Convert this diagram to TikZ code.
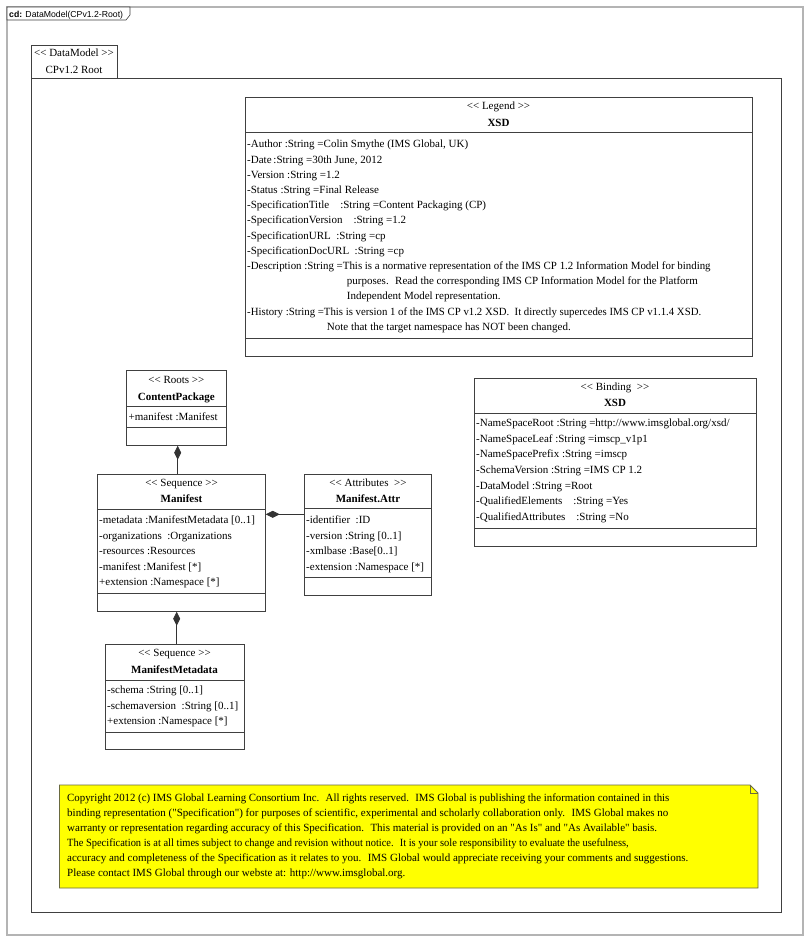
\documentclass[tikz,border=0pt]{standalone}
\usepackage{fontspec}
\setmainfont{Liberation Serif}[Ligatures=TeXOff]
\newfontfamily\lsans{Liberation Sans}
\usetikzlibrary{arrows.meta}
\definecolor{boxc}{HTML}{404040}
\definecolor{framec}{HTML}{B4B4B4}
\definecolor{notec}{HTML}{FFFF00}
\definecolor{notebd}{HTML}{6A6A40}
\newcommand\dfont{\fontsize{11}{13}\selectfont}
\tikzset{
  boxline/.style={draw=boxc, line width=0.7pt},
  cls/.style={boxline, fill=white, inner sep=0pt, outer sep=0pt, anchor=north west},
  t/.style={anchor=base west, inner sep=0pt, font=\dfont},
  h/.style={anchor=base, inner sep=0pt, font=\dfont},
  hb/.style={anchor=base, inner sep=0pt, font=\dfont\bfseries},
  conn/.style={draw=boxc!80!black, line width=0.8pt},
  dia/.style={{Diamond[length=14pt,width=7pt]}-},
}
\begin{document}
\begin{tikzpicture}[x=1pt,y=-1pt]
\useasboundingbox (0,0) rectangle (807,940);
\fill[white] (0,0) rectangle (807,940);
% outer frame
\draw[framec, line width=1.4pt] (7,7) rectangle (803,935);
\draw[boxc, line width=0.6pt, fill=white] (7,7) -- (130,7) -- (130,15) -- (126,20) -- (7,20) -- cycle;
\node[anchor=base west, inner sep=0pt, font=\lsans\fontsize{8.7}{10}\selectfont] (lbl) at (9,17.5) {\textbf{cd:} DataModel(CPv1.2-Root)};
% package
\draw[boxline] (31,45) rectangle (117,78);
\draw[boxline] (31,78) rectangle (781,912);
\node[h] (pst) at (74,56.5) {<{}< DataModel >{}>};
\node[h] (pnm) at (74,73.5) {CPv1.2 Root};

% Legend
\node[cls, minimum width=507pt, minimum height=259pt] (leg) at (245,97) {};
\draw[boxline] (245,132) -- (752,132);
\draw[boxline] (245,338) -- (752,338);
\node[h] (legst) at (498.5,109.2) {<{}< Legend >{}>};
\node[hb] (legnm) at (498.5,126.8) {XSD};
\node[t] (l1) at (247,147.8) {-Author :String =Colin Smythe (IMS Global, UK)};
\node[t] (l2) at (247,163.0) {-Date\,:String =30th June, 2012};
\node[t] (l3) at (247,178.2) {-Version :String =1.2};
\node[t] (l4) at (247,193.4) {-Status :String =Final Release};
\node[t] (l5) at (247,208.6) {-SpecificationTitle\quad:String =Content Packaging (CP)};
\node[t] (l6) at (247,223.8) {-SpecificationVersion\quad:String =1.2};
\node[t] (l7) at (247,239.0) {-SpecificationURL\ \ :String =cp};
\node[t] (l8) at (247,254.2) {-SpecificationDocURL\ \ :String =cp};
\node[t] (l9) at (247,269.4) {\scalebox{0.99}[1]{-Description :String =This is a normative representation of the IMS CP 1.2 Information Model for binding}};
\node[t] (l10) at (346.7,284.6) {purposes.~ Read the corresponding IMS CP Information Model for the Platform};
\node[t] (l11) at (346.7,299.8) {Independent Model representation.};
\node[t] (l12) at (247,315.0) {\scalebox{0.98}[1]{-History :String =This is version 1 of the IMS CP v1.2 XSD.~ It directly supercedes IMS CP v1.1.4 XSD.}};
\node[t] (l13) at (326.7,330.2) {Note that the target namespace has NOT been changed.};

% Binding
\node[cls, minimum width=282pt, minimum height=168pt] (bnd) at (474,378) {};
\draw[boxline] (474,413) -- (756,413);
\draw[boxline] (474,528) -- (756,528);
\node[h] (bst) at (615,390.5) {<{}< Binding\ \ >{}>};
\node[hb] (bnm) at (615,406.5) {XSD};
\node[t] (b1) at (476,426.5) {-NameSpaceRoot :String =http://www.imsglobal.org/xsd/};
\node[t] (b2) at (476,442.2) {-NameSpaceLeaf :String =imscp\_v1p1};
\node[t] (b3) at (476,457.8) {-NameSpacePrefix :String =imscp};
\node[t] (b4) at (476,473.5) {-SchemaVersion :String =IMS CP 1.2};
\node[t] (b5) at (476,489.2) {-DataModel :String =Root};
\node[t] (b6) at (476,504.8) {-QualifiedElements\quad:String =Yes};
\node[t] (b7) at (476,520.5) {-QualifiedAttributes\quad:String =No};

% ContentPackage
\node[cls, minimum width=99.3pt, minimum height=75pt] (cp) at (126.7,370.7) {};
\draw[boxline] (126.7,406.7) -- (226,406.7);
\draw[boxline] (126.7,427.3) -- (226,427.3);
\node[h] (cpst) at (176.35,383.5) {<{}< Roots >{}>};
\node[hb] (cpnm) at (176.35,400.2) {ContentPackage};
\node[t] (cp1) at (128.5,420.2) {+manifest :Manifest};

% Manifest
\node[cls, minimum width=168.4pt, minimum height=137.4pt] (man) at (97.3,474.3) {};
\draw[boxline] (97.3,509.3) -- (265.7,509.3);
\draw[boxline] (97.3,593.3) -- (265.7,593.3);
\node[h] (manst) at (181.5,486.5) {<{}< Sequence >{}>};
\node[hb] (mannm) at (181.5,502.5) {Manifest};
\node[t] (m1) at (99,523.5) {-metadata :ManifestMetadata [0..1]};
\node[t] (m2) at (99,539.1) {-organizations\ \ :Organizations};
\node[t] (m3) at (99,554.7) {-resources :Resources};
\node[t] (m4) at (99,570.3) {-manifest :Manifest [*]};
\node[t] (m5) at (99,585.9) {+extension :Namespace [*]};

% Manifest.Attr
\node[cls, minimum width=127.4pt, minimum height=121.4pt] (attr) at (304.3,474.3) {};
\draw[boxline] (304.3,508.3) -- (431.7,508.3);
\draw[boxline] (304.3,577.7) -- (431.7,577.7);
\node[h] (attrst) at (368,486.5) {<{}< Attributes\ \ >{}>};
\node[hb] (attrnm) at (368,502.5) {Manifest.Attr};
\node[t] (a1) at (306,523.5) {-identifier\ \ :ID};
\node[t] (a2) at (306,539.1) {-version :String [0..1]};
\node[t] (a3) at (306,554.7) {-xmlbase :Base[0..1]};
\node[t] (a4) at (306,570.3) {-extension :Namespace [*]};

% ManifestMetadata
\node[cls, minimum width=139pt, minimum height=105pt] (meta) at (105,644.3) {};
\draw[boxline] (105,680) -- (244,680);
\draw[boxline] (105,732.3) -- (244,732.3);
\node[h] (metast) at (174.5,656.8) {<{}< Sequence >{}>};
\node[hb] (metanm) at (174.5,673.5) {ManifestMetadata};
\node[t] (mm1) at (107,693.5) {-schema :String [0..1]};
\node[t] (mm2) at (107,709.1) {-schemaversion\ \ :String [0..1]};
\node[t] (mm3) at (107,724.7) {+extension :Namespace [*]};

% connectors
\coordinate (cpb) at (177.7,445.7);
\draw[conn, dia] (cpb) -- (cpb |- man.north);
\coordinate (ma) at (304.3,514.3);
\draw[conn, dia] (ma -| man.east) -- (ma);
\coordinate (mmt) at (176.7,644.3);
\draw[conn, dia] (mmt |- man.south) -- (mmt);

% Note
\draw[notebd, line width=0.8pt, fill=notec] (59.5,785) -- (750,785) -- (758,793) -- (758,888) -- (59.5,888) -- cycle;
\draw[notebd, line width=0.6pt] (750,785) -- (750,793) -- (758,793);
\node[t] (n1) at (67,801) {\scalebox{0.985}[1]{Copyright 2012 (c) IMS Global Learning Consortium Inc.~ All rights reserved.~ IMS Global is publishing the information contained in this}};
\node[t] (n2) at (67,816) {binding representation ("Specification") for purposes of scientific, experimental and scholarly collaboration only.~ IMS Global makes no};
\node[t] (n3) at (67,831) {warranty or representation regarding accuracy of this Specification.~ This material is provided on an "As Is" and "As Available" basis.};
\node[t] (n4) at (67,846) {\scalebox{0.95}[1]{The Specification is at all times subject to change and revision without notice.~ It is your sole responsibility to evaluate the usefulness,}};
\node[t] (n5) at (67,861) {accuracy and completeness of the Specification as it relates to you.~ IMS Global would appreciate receiving your comments and suggestions.};
\node[t] (n6) at (67,876) {Please contact IMS Global through our webste at: http://www.imsglobal.org.};
\end{tikzpicture}
\end{document}
